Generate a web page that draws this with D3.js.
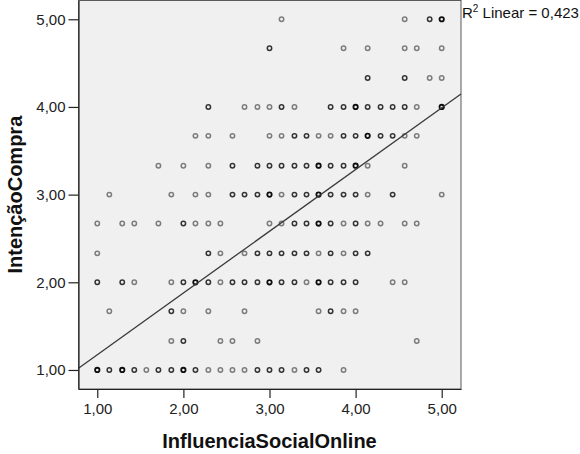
<!DOCTYPE html>
<html>
<head>
<meta charset="utf-8">
<script src="https://cdn.jsdelivr.net/npm/d3@7"></script>
<style>
  html, body { margin: 0; padding: 0; background: #ffffff; }
  svg { display: block; }
  text { font-family: Arial, "Liberation Sans", sans-serif; }
</style>
</head>
<body>
<svg id="chart" width="580" height="454"></svg>
<script>
// ---- data ----
const xTicks = [1, 2, 3, 4, 5];
const yTicks = [1, 2, 3, 4, 5];
const xTitle = "InfluenciaSocialOnline";
const yTitle = "IntençãoCompra";
const fitLabel = "Linear = 0,423";
const fitIntercept = 0.47;
const fitSlope = 0.704;

// possible score levels (means of 7 items on X, 3 items on Y)
const xLevels = [1.00, 1.14, 1.29, 1.43, 1.57, 1.71, 1.86, 2.00, 2.14, 2.29, 2.43, 2.57, 2.71, 2.86,
                 3.00, 3.14, 3.29, 3.43, 3.57, 3.71, 3.86, 4.00, 4.14, 4.29, 4.43, 4.57, 4.71, 4.86, 5.00];
const yLevels = [5.00, 4.67, 4.33, 4.00, 3.67, 3.33, 3.00, 2.67, 2.33, 2.00, 1.67, 1.33, 1.00];

// per y level: [index into xLevels, overlap weight (1 light, 2 dark, 3 very dark)]
const rowPoints = [
  [[15,1],[25,1],[27,2],[28,3]],
  [[14,2],[20,1],[22,1],[25,1],[26,1],[28,1]],
  [[22,2],[25,2],[27,1],[28,1]],
  [[9,2],[12,1],[13,1],[14,1],[15,2],[16,1],[19,2],[20,2],[21,3],[22,2],[23,2],[24,2],[25,2],[26,1],[28,3]],
  [[8,1],[9,1],[11,1],[14,1],[15,1],[16,2],[17,2],[18,1],[19,1],[20,2],[21,2],[22,3],[23,2],[24,2],[25,1],[26,1]],
  [[5,1],[7,1],[9,1],[11,2],[13,2],[14,2],[15,2],[16,2],[17,2],[18,3],[19,2],[20,2],[21,3],[22,1],[25,1]],
  [[1,1],[6,1],[8,1],[9,1],[11,2],[12,2],[13,2],[14,3],[15,1],[16,2],[17,2],[18,3],[19,2],[20,2],[21,2],[22,1],[24,2],[28,1]],
  [[0,1],[2,1],[3,1],[5,1],[7,2],[8,1],[9,1],[10,1],[14,1],[15,1],[16,2],[17,2],[18,3],[19,2],[20,1],[21,2],[22,1],[23,1],[25,1],[26,1]],
  [[0,1],[9,2],[10,1],[12,1],[13,2],[14,2],[15,2],[16,2],[17,2],[18,1],[19,2],[20,1],[21,2],[22,2]],
  [[0,2],[2,2],[3,1],[6,1],[7,2],[8,3],[9,2],[10,1],[11,2],[12,2],[13,2],[14,3],[15,2],[16,2],[17,1],[18,3],[19,2],[20,2],[21,2],[24,1],[25,1]],
  [[1,1],[6,2],[7,1],[9,1],[12,1],[18,1],[19,2],[20,1],[21,1]],
  [[6,1],[7,2],[10,1],[11,1],[13,1],[26,1]],
  [[0,3],[1,2],[2,3],[3,2],[4,1],[5,2],[6,2],[7,3],[8,2],[9,1],[10,1],[11,1],[12,1],[13,2],[14,2],[15,2],[16,1],[17,2],[18,2],[20,1]]
];

// ---- layout ----
const svg = d3.select("#chart");
const plot = { left: 78.5, right: 461, top: 0.5, bottom: 389 };

const x = d3.scaleLinear().domain([0.782, 5.224]).range([plot.left, plot.right]);
const y = d3.scaleLinear().domain([0.783, 5.214]).range([plot.bottom, plot.top]);

const fmt = d => d.toFixed(2).replace(".", ",");

// plot background
svg.append("rect")
  .attr("x", plot.left).attr("y", plot.top)
  .attr("width", plot.right - plot.left).attr("height", plot.bottom - plot.top)
  .attr("fill", "#f0f0f0").attr("stroke", "#5a5a5a").attr("stroke-width", 1);

// points
const points = [];
rowPoints.forEach((row, i) => {
  row.forEach(([xi, w]) => points.push({ x: xLevels[xi], y: yLevels[i], w }));
});
const shade = d3.scaleOrdinal().domain([1, 2, 3]).range(["#7c7c7c", "#333333", "#0d0d0d"]);

svg.append("g").selectAll("circle")
  .data(points)
  .join("circle")
  .attr("cx", d => x(d.x))
  .attr("cy", d => y(d.y))
  .attr("r", 2.2)
  .attr("fill", "none")
  .attr("stroke", d => shade(d.w))
  .attr("stroke-width", d => d.w === 3 ? 1.8 : 1.5);

// fit line
const [x0, x1] = x.domain();
svg.append("line")
  .attr("x1", x(x0)).attr("y1", y(fitIntercept + fitSlope * x0))
  .attr("x2", x(x1)).attr("y2", y(fitIntercept + fitSlope * x1))
  .attr("stroke", "#3a3a3a").attr("stroke-width", 1.3);

// axes
const xAxis = svg.append("g")
  .attr("transform", `translate(0,${plot.bottom})`)
  .call(d3.axisBottom(x).tickValues(xTicks).tickFormat(fmt).tickSizeInner(9).tickSizeOuter(0).tickPadding(5));
const yAxis = svg.append("g")
  .attr("transform", `translate(${plot.left},0)`)
  .call(d3.axisLeft(y).tickValues(yTicks).tickFormat(fmt).tickSizeInner(10).tickSizeOuter(0).tickPadding(3));

[xAxis, yAxis].forEach(g => {
  g.select(".domain").attr("stroke", "#222").attr("stroke-width", 1.2);
  g.selectAll(".tick line").attr("stroke", "#222").attr("stroke-width", 1.2);
  g.selectAll(".tick text")
    .attr("fill", "#222")
    .style("font-size", "15px")
    .style("font-family", 'Arial, "Liberation Sans", sans-serif');
});

// titles
svg.append("text")
  .attr("x", x(3)).attr("y", 448)
  .attr("text-anchor", "middle")
  .attr("font-size", 20).attr("font-weight", "bold").attr("fill", "#111")
  .text(xTitle);

svg.append("text")
  .attr("transform", `translate(22,${y(3)}) rotate(-90)`)
  .attr("text-anchor", "middle")
  .attr("font-size", 20).attr("font-weight", "bold").attr("fill", "#111")
  .text(yTitle);

// R² annotation
const r2 = svg.append("text")
  .attr("x", 462).attr("y", 18)
  .attr("font-size", 15).attr("fill", "#111");
r2.append("tspan").text("R");
r2.append("tspan").attr("font-size", 10).attr("dy", -6).text("2");
r2.append("tspan").attr("dy", 6).text(" " + fitLabel);
</script>
</body>
</html>
